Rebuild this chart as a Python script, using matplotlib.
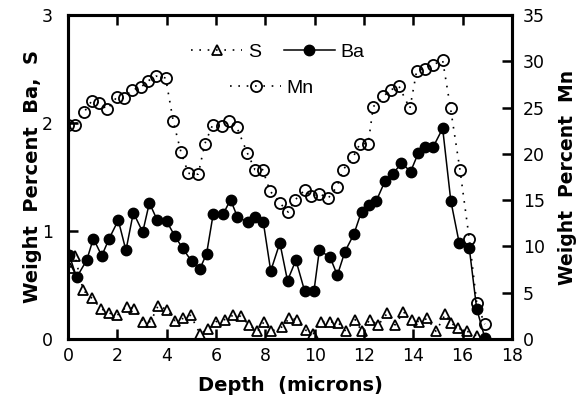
import matplotlib
matplotlib.use("Agg")
import matplotlib.pyplot as plt

## Data (depth in microns, weight percent)
ba_depth = [0.05, 0.35, 0.76, 1.03, 1.37, 1.67, 2.04, 2.35, 2.65, 3.03, 3.30, 3.62,
            4.0, 4.34, 4.65, 5.01, 5.35, 5.62, 5.89, 6.30, 6.59, 6.87, 7.31, 7.58,
            7.92, 8.22, 8.59, 8.9, 9.24, 9.6, 9.97, 10.19, 10.62, 10.92, 11.23,
            11.59, 11.9, 12.2, 12.5, 12.85, 13.18, 13.52, 13.89, 14.2, 14.47,
            14.81, 15.19, 15.52, 15.86, 16.27, 16.57, 16.9]
ba = [0.78, 0.57, 0.73, 0.93, 0.77, 0.93, 1.10, 0.82, 1.17, 0.99, 1.26, 1.10,
      1.09, 0.95, 0.84, 0.72, 0.65, 0.79, 1.16, 1.16, 1.29, 1.13, 1.08, 1.13,
      1.08, 0.63, 0.89, 0.54, 0.73, 0.44, 0.44, 0.82, 0.76, 0.59, 0.81,
      0.97, 1.18, 1.24, 1.28, 1.46, 1.53, 1.63, 1.55, 1.72, 1.78,
      1.78, 1.95, 1.28, 0.89, 0.84, 0.28, 0.01]

mn_depth = [0.0, 0.28, 0.65, 0.96, 1.27, 1.59, 1.97, 2.28, 2.58, 2.96, 3.26, 3.57,
            3.96, 4.27, 4.58, 4.88, 5.28, 5.55, 5.86, 6.23, 6.54, 6.84, 7.27, 7.58,
            7.89, 8.19, 8.59, 8.93, 9.2, 9.6, 9.84, 10.19, 10.55, 10.89, 11.16,
            11.57, 11.84, 12.17, 12.38, 12.78, 13.08, 13.42, 13.86, 14.14, 14.47,
            14.78, 15.19, 15.51, 15.89, 16.27, 16.57, 16.9]
mn = [23.1, 23.1, 24.5, 25.7, 25.5, 24.8, 26.1, 26.0, 26.9, 27.2, 27.9, 28.4,
      28.2, 23.5, 20.2, 17.9, 17.8, 21.1, 23.1, 23.0, 23.5, 22.9, 20.1, 18.3,
      18.3, 16.0, 14.7, 13.7, 15.0, 16.1, 15.4, 15.7, 15.2, 16.4, 18.3,
      19.7, 21.1, 21.1, 25.1, 26.2, 26.9, 27.3, 24.9, 29.0, 29.2,
      29.6, 30.1, 24.9, 18.3, 10.8, 3.9, 1.6]

s_depth = [0.1, 0.28, 0.62, 0.96, 1.35, 1.67, 2.0, 2.38, 2.68, 3.05, 3.35, 3.66,
           4.03, 4.34, 4.67, 4.97, 5.35, 5.69, 6.0, 6.36, 6.7, 7.0, 7.35, 7.68,
           7.95, 8.22, 8.66, 8.97, 9.27, 9.65, 9.95, 10.24, 10.62, 10.96, 11.27,
           11.64, 11.91, 12.24, 12.58, 12.95, 13.26, 13.6, 13.93, 14.24, 14.57,
           14.92, 15.3, 15.52, 15.82, 16.19, 16.57]
s = [0.66, 0.77, 0.45, 0.38, 0.28, 0.24, 0.22, 0.30, 0.28, 0.16, 0.16, 0.31,
     0.27, 0.17, 0.19, 0.22, 0.05, 0.09, 0.16, 0.18, 0.22, 0.21, 0.13, 0.07,
     0.16, 0.07, 0.11, 0.19, 0.18, 0.08, 0.05, 0.16, 0.16, 0.15, 0.07,
     0.18, 0.07, 0.18, 0.13, 0.24, 0.13, 0.25, 0.18, 0.16, 0.19,
     0.07, 0.23, 0.15, 0.10, 0.07, 0.03]

plt.rcParams['font.family'] = 'DejaVu Sans'

fig = plt.figure(figsize=(5.77, 3.99), dpi=100)
ax = fig.add_axes([0.1178, 0.1504, 0.7695, 0.812])
ax2 = ax.twinx()

s_line, = ax.plot(s_depth, s, linestyle=(0, (1, 4)), color='black', lw=1.2,
                  marker='^', ms=7.5, mfc='none', mec='black', mew=1.3)
ba_line, = ax.plot(ba_depth, ba, '-', color='black', lw=1.1,
                   marker='o', ms=7.5, mfc='black', mec='black')
mn_line, = ax2.plot(mn_depth, mn, linestyle=(0, (1, 4)), color='black', lw=1.2,
                    marker='o', ms=8, mfc='none', mec='black', mew=1.3)

ax.set_xlim(0, 18)
ax.set_ylim(0, 3)
ax2.set_ylim(0, 35)
ax.set_xticks(range(0, 19, 2))
ax.set_yticks([0, 1, 2, 3])
ax2.set_yticks(range(0, 36, 5))

for a in (ax, ax2):
	for sp in a.spines.values():
		sp.set_linewidth(2.2)
ax.tick_params(axis='x', direction='in', length=7, width=1.8, top=True,
               labelsize=12.5, pad=6)
ax.tick_params(axis='y', direction='in', length=7, width=1.8, right=False,
               labelsize=12.5, pad=11)
ax2.tick_params(axis='y', direction='in', length=7, width=1.8,
                labelsize=12.5, pad=8)

ax.set_xlabel('Depth  (microns)', fontsize=14, fontweight='bold', labelpad=8)
ax.set_ylabel('Weight  Percent  Ba,  S', fontsize=14, fontweight='bold')
ax2.set_ylabel('Weight  Percent  Mn', fontsize=13.5, fontweight='bold')
ax.yaxis.set_label_coords(-0.058, 0.5)
ax2.yaxis.set_label_coords(1.104, 0.5)

leg_font = {'family': 'Liberation Sans', 'size': 14}
leg1 = ax2.legend([s_line, ba_line], ['S', 'Ba'], ncol=2, frameon=False,
                  loc='center', bbox_to_anchor=(0.473, 0.886), prop=leg_font,
                  handlelength=2.6, handletextpad=0.3, columnspacing=1.2,
                  numpoints=1)
ax2.add_artist(leg1)
ax2.legend([mn_line], ['Mn'], frameon=False, loc='center',
           bbox_to_anchor=(0.46, 0.775), prop=leg_font,
           handlelength=2.6, handletextpad=0.3, numpoints=1)

plt.savefig('out.png', dpi=100)
